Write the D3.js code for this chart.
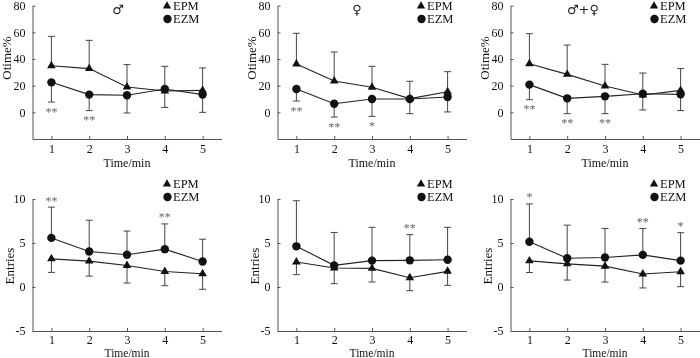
<!DOCTYPE html>
<html>
<head>
<meta charset="utf-8">
<script src="https://cdn.jsdelivr.net/npm/d3@7"></script>
<style>
  body { margin: 0; background: #fff; }
  svg { will-change: transform; }
  svg text { font-family: 'Liberation Serif', 'Times New Roman', 'DejaVu Serif', serif; }
  svg text.sym { font-family: 'DejaVu Sans', sans-serif; }
</style>
</head>
<body>
<div id="chart"></div>
<script>
const times = [1, 2, 3, 4, 5];
const groups = ["♂", "♀", "♂+♀"];
const otimeTicks = [0, 20, 40, 60, 80];
const entriesTicks = [-5, 0, 5, 10];

// Otime% : mean and SD per group (♂, ♀, ♂+♀)
const otimeEPM = [
  [35, 32.8, 19, 16, 16.5],
  [36.3, 23.5, 18.8, 10.3, 15.5],
  [36.5, 28.5, 19.8, 13, 16.5]
];
const otimeEPMsd = [
  [22, 21.2, 16.8, 18.5, 16.8],
  [23, 21.8, 15.7, 13, 15],
  [22.5, 22, 16.2, 16.5, 16.3]
];
const otimeEZM = [
  [22.5, 13.3, 12.8, 17.5, 13.3],
  [17.5, 6.5, 10, 10, 11.5],
  [20.8, 10.5, 12, 14, 13.5]
];
const otimeEZMsd = [
  [14.8, 12, 13.3, 13.8, 13.3],
  [9, 10, 13, 11, 11.2],
  [11.3, 11.5, 13, 12.2, 12.2]
];
const otimeStars = [
  ["**", "**", "", "", ""],
  ["**", "**", "*", "", ""],
  ["**", "**", "**", "", ""]
];

// Entries : mean and SD per group
const entriesEPM = [
  [3.2, 2.94, 2.45, 1.77, 1.5],
  [2.84, 2.16, 2.12, 1.06, 1.78],
  [2.97, 2.63, 2.37, 1.47, 1.73]
];
const entriesEPMsd = [
  [1.54, 1.7, 2.0, 1.62, 1.76],
  [1.44, 1.78, 1.55, 1.48, 1.59],
  [1.32, 1.84, 1.81, 1.58, 1.69]
];
const entriesEZM = [
  [5.58, 4.04, 3.66, 4.3, 2.9],
  [4.62, 2.46, 3.0, 3.03, 3.1],
  [5.15, 3.27, 3.35, 3.65, 3.0]
];
const entriesEZMsd = [
  [3.5, 3.55, 2.7, 2.87, 2.53],
  [5.18, 3.74, 3.78, 2.92, 3.68],
  [4.29, 3.76, 3.3, 3.0, 3.17]
];
const entriesStars = [
  ["**", "", "", "**", ""],
  ["", "", "", "**", ""],
  ["*", "", "", "**", "*"]
];

const width = 700;
const height = 358;
const panelLeft = [32.5, 277.5, 510.5];
const panelW = 189;
const legendX = [173, 427, 660];
const groupLabelX = [118, 357, 583];

const rows = [
  {
    label: "Otime%", domain: [-20, 80], range: [139, 5.7], ticks: otimeTicks,
    labelX: -26, labelY: 58, legendY: [6, 19], groupY: 9,
    tickPad: 5, titleGap: 24, titleSize: 12,
    epm: otimeEPM, epmSd: otimeEPMsd, epmDir: 1,
    ezm: otimeEZM, ezmSd: otimeEZMsd, ezmDir: -1,
    stars: otimeStars
  },
  {
    label: "Entries", domain: [-5, 10], range: [331, 199], ticks: entriesTicks,
    labelX: -23, labelY: 266, legendY: [184, 197], groupY: null,
    tickPad: 4.5, titleGap: 21.5, titleSize: 11.5,
    epm: entriesEPM, epmSd: entriesEPMsd, epmDir: -1,
    ezm: entriesEZM, ezmSd: entriesEZMsd, ezmDir: 1,
    stars: entriesStars
  }
];

const svg = d3.select("#chart")
  .append("svg")
  .attr("width", width)
  .attr("height", height);

const x = d3.scaleLinear().domain([0.5, 5.5]).range([0, panelW]);
const tri = d3.symbol().type(d3.symbolTriangle).size(32);
const triLegend = d3.symbol().type(d3.symbolTriangle).size(30);
const fmt = d => String(d);

function styleAxis(a) {
  a.attr("font-family", null);
  a.selectAll("path, line").attr("stroke", "#555");
  a.selectAll("text").attr("font-size", 12).attr("fill", "#111");
}

rows.forEach(row => {
  const y = d3.scaleLinear().domain(row.domain).range(row.range);

  groups.forEach((grp, gi) => {
    const g = svg.append("g").attr("transform", `translate(${panelLeft[gi]},0)`);

    g.append("g")
      .attr("transform", `translate(0,${row.range[0]})`)
      .call(d3.axisBottom(x).tickValues(times).tickFormat(fmt)
        .tickSizeInner(-3).tickSizeOuter(0).tickPadding(row.tickPad))
      .call(styleAxis);

    g.append("g")
      .call(d3.axisLeft(y).tickValues(row.ticks).tickFormat(fmt)
        .tickSizeInner(-3).tickSizeOuter(0).tickPadding(7))
      .call(styleAxis);

    g.append("text")
      .attr("transform", `translate(${row.labelX},${row.labelY}) rotate(-90)`)
      .attr("text-anchor", "middle")
      .attr("dy", "0.35em")
      .attr("font-size", 13)
      .attr("fill", "#111")
      .text(row.label);

    g.append("text")
      .attr("x", x(3))
      .attr("y", row.range[0] + row.titleGap)
      .attr("dy", "0.35em")
      .attr("text-anchor", "middle")
      .attr("font-size", row.titleSize)
      .attr("fill", "#111")
      .text("Time/min");

    const series = [
      { mean: row.epm[gi], sd: row.epmSd[gi], dir: row.epmDir, shape: "tri" },
      { mean: row.ezm[gi], sd: row.ezmSd[gi], dir: row.ezmDir, shape: "circle" }
    ];

    // error bars (one-sided)
    series.forEach(s => {
      const bars = g.append("g").attr("stroke", "#444").attr("stroke-width", 1);
      times.forEach((t, i) => {
        const end = y(s.mean[i] + s.dir * s.sd[i]);
        bars.append("line")
          .attr("x1", x(t)).attr("x2", x(t))
          .attr("y1", y(s.mean[i])).attr("y2", end);
        bars.append("line")
          .attr("x1", x(t) - 3.5).attr("x2", x(t) + 3.5)
          .attr("y1", end).attr("y2", end);
      });
    });

    // lines and markers
    series.forEach(s => {
      const pts = times.map((t, i) => [t, s.mean[i]]);
      g.append("path")
        .datum(pts)
        .attr("fill", "none")
        .attr("stroke", "#222")
        .attr("stroke-width", 1.1)
        .attr("d", d3.line().x(d => x(d[0])).y(d => y(d[1])));

      if (s.shape === "tri") {
        g.selectAll(null)
          .data(pts)
          .enter().append("path")
          .attr("d", tri)
          .attr("transform", d => `translate(${x(d[0])},${y(d[1])})`)
          .attr("fill", "#111");
      } else {
        g.selectAll(null)
          .data(pts)
          .enter().append("circle")
          .attr("cx", d => x(d[0]))
          .attr("cy", d => y(d[1]))
          .attr("r", 4.2)
          .attr("fill", "#111");
      }
    });

    // significance marks beside the EZM bar ends
    const ez = series[1];
    times.forEach((t, i) => {
      const mark = row.stars[gi][i];
      if (!mark) return;
      const end = y(ez.mean[i] + ez.dir * ez.sd[i]);
      const cy = end - ez.dir * 8;
      g.append("text")
        .attr("x", x(t))
        .attr("y", cy + 5.5)
        .attr("text-anchor", "middle")
        .attr("font-size", 12)
        .attr("fill", "#666")
        .text(mark);
    });

    // legend
    const lx = legendX[gi] - panelLeft[gi];
    g.append("path")
      .attr("d", triLegend)
      .attr("transform", `translate(${lx - 6},${row.legendY[0]})`)
      .attr("fill", "#111");
    g.append("circle")
      .attr("cx", lx - 5.5).attr("cy", row.legendY[1]).attr("r", 4.2)
      .attr("fill", "#111");
    ["EPM", "EZM"].forEach((name, k) => {
      g.append("text")
        .attr("x", lx)
        .attr("y", row.legendY[k])
        .attr("dy", "0.35em")
        .attr("font-size", 12.5)
        .attr("fill", "#111")
        .text(name);
    });

    if (row.groupY !== null) {
      svg.append("text")
        .attr("class", "sym")
        .attr("x", groupLabelX[gi])
        .attr("y", row.groupY)
        .attr("dy", "0.35em")
        .attr("text-anchor", "middle")
        .attr("font-size", 13)
        .attr("fill", "#222")
        .text(grp);
    }
  });
});
</script>
</body>
</html>
